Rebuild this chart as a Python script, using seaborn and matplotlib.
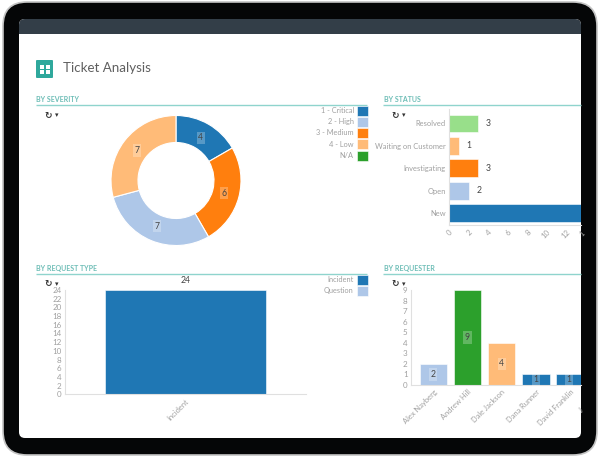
import matplotlib
matplotlib.use("Agg")
import matplotlib.pyplot as plt
from matplotlib.patches import FancyBboxPatch, Rectangle, Patch
import seaborn as sns

severity_labels = ["1 - Critical", "2 - High", "3 - Medium", "4 - Low", "N/A"]
pie_labels = ["1 - Critical", "3 - Medium", "2 - High", "4 - Low"]
pie_values = [4, 6, 7, 7]

status_labels = ["Resolved", "Waiting on Customer", "Investigating", "Open", "New"]
status_values = [3, 1, 3, 2, 15]
status_ticks = [0, 2, 4, 6, 8, 10, 12]

type_labels = ["Incident"]
type_values = [24]
type_legend = ["Incident", "Question"]
type_ticks = list(range(0, 25, 2))

requesters = ["Alex Nayberg", "Andrew Hill", "Dale Jackson", "Dana Runner", "David Franklin"]
requester_values = [2, 9, 4, 1, 1]

W, H = 600, 458
TEAL = "#6dbdb6"
LINE = "#8fd4cd"
GREY = "#a0a0a0"
DARK = "#444444"

sns.set_theme(style="white")
plt.rcParams["font.family"] = ["Lato", "DejaVu Sans"]
tab = sns.color_palette("tab20")
blue, lblue, orange, lorange, green, lgreen = tab[0], tab[1], tab[2], tab[3], tab[4], tab[5]
sev_colors = dict(zip(severity_labels, [blue, lblue, orange, lorange, green]))

fig = plt.figure(figsize=(W / 100, H / 100), dpi=100)


def px_axes(x0, y0, x1, y1):
    return fig.add_axes([x0 / W, 1 - y1 / H, (x1 - x0) / W, (y1 - y0) / H], facecolor="none")


def style_axis(ax, xsize=5.4, ysize=5.4):
    sns.despine(ax=ax)
    for s in ["left", "bottom"]:
        ax.spines[s].set_color("#e0e0e0")
        ax.spines[s].set_linewidth(0.8)
    ax.tick_params(colors=GREY, length=1.5, width=0.5, pad=1, color="#e0e0e0")
    ax.tick_params(axis="x", labelsize=xsize)
    ax.tick_params(axis="y", labelsize=ysize)
    ax.set_xlabel("")
    ax.set_ylabel("")


def rotate_x(ax):
    for t in ax.get_xticklabels():
        t.set_rotation(45)
        t.set_ha("right")
        t.set_rotation_mode("anchor")


def add_legend(labels, colors, top):
    handles = [Patch(facecolor=c, edgecolor="white", linewidth=0.4, label=l) for l, c in zip(labels, colors)]
    leg = fig.legend(handles=handles, loc="upper right", bbox_to_anchor=(367.5 / W, 1 - top / H),
                     markerfirst=False, frameon=False, fontsize=5.3, labelcolor=GREY,
                     handlelength=1.36, handleheight=1.72, handletextpad=0.5,
                     labelspacing=0.17, borderpad=0, borderaxespad=0)
    return leg


# device frame and page furniture, in pixel coordinates
bg = px_axes(0, 0, W, H)
bg.set_xlim(0, W)
bg.set_ylim(H, 0)
bg.axis("off")
bg.add_patch(FancyBboxPatch((3, 2), 594, 453, boxstyle="round,pad=0,rounding_size=24",
                            fc="#050607", ec="#c4c4c4", lw=1.2))
screen = FancyBboxPatch((19, 19), 562, 419, boxstyle="round,pad=0,rounding_size=6", fc="white", ec="none")
bg.add_patch(screen)
head = Rectangle((19, 19), 562, 15, fc="#333e48", ec="none")
bg.add_patch(head)
head.set_clip_path(screen)

bg.add_patch(FancyBboxPatch((36, 60), 17, 18, boxstyle="round,pad=0,rounding_size=1", fc="#2fa89c", ec="none"))
for ix in (40, 45.5):
    for iy in (64.5, 70):
        bg.add_patch(Rectangle((ix, iy), 4.3, 4.3, fc="white", ec="none"))
bg.text(63, 67.5, "Ticket Analysis", fontsize=9.6, color="#5f5f5f", va="center")

sections = [("BY SEVERITY", 36, 367, 99.5, 105), ("BY STATUS", 383, 581, 99.5, 105),
            ("BY REQUEST TYPE", 36, 367, 268, 273.5), ("BY REQUESTER", 383, 581, 268, 273.5)]
for name, x0, x1, ty, ly in sections:
    bg.text(x0 + 0.5, ty, name, fontsize=5.0, color=TEAL, fontweight="bold", va="center")
    bg.plot([x0, x1], [ly, ly], color=LINE, lw=1, solid_capstyle="butt")
for ix, iy in [(48, 115), (395, 115), (48, 284), (395, 284)]:
    bg.text(ix, iy, "\u21bb", fontsize=6.5, color="#333333", ha="center", va="center",
            family="DejaVu Sans", fontweight="bold")
    bg.text(ix + 9, iy, "\u25be", fontsize=5, color="#333333", ha="center", va="center", family="DejaVu Sans")

# tick labels that run into the edge of the screen
for txt, ix, iy in [("1", 578, 238), ("J", 577.5, 414)]:
    t = bg.text(ix, iy, txt, fontsize=5.4, color=GREY, rotation=45, ha="left", va="bottom", clip_on=True)
    t.set_clip_path(screen)

# by severity
ax = px_axes(111, 115.5, 241, 245.5)
wedges, texts = ax.pie(pie_values, labels=[str(v) for v in pie_values], labeldistance=0.76,
                       colors=[sev_colors[l] for l in pie_labels], startangle=90, counterclock=False,
                       radius=1, wedgeprops=dict(width=27 / 65, edgecolor="white", linewidth=0.8))
ax.set_xlim(-1, 1)
ax.set_ylim(-1, 1)
for t in texts:
    t.set_ha("center")
    t.set_va("center")
    t.set_fontsize(6.2)
    t.set_color(DARK)
    t.set_bbox(dict(facecolor="white", alpha=0.25, edgecolor="none", pad=1.2))
add_legend(severity_labels, [sev_colors[l] for l in severity_labels], 105.5)

# by status
ax = px_axes(449, 109, 581, 225)
sns.barplot(x=status_values, y=status_labels, hue=status_labels, ax=ax, orient="h", width=0.8,
            saturation=1, palette=[lgreen, lorange, orange, lblue, blue], legend=False,
            edgecolor="white", linewidth=0.4)
ax.set_xlim(0, 132 / 9.8)
ax.set_ylim(4.53, -0.647)
ax.set_xticks(status_ticks)
style_axis(ax, xsize=5.6, ysize=5.4)
rotate_x(ax)
for c, v in zip(ax.containers, status_values):
    if v < 13:
        ax.bar_label(c, padding=5.5, fontsize=6.2, color=DARK)

# by request type
ax = px_axes(65, 290, 306, 394.3)
sns.barplot(x=type_labels, y=type_values, ax=ax, width=0.668, saturation=1, color=blue,
            edgecolor="white", linewidth=0.4)
ax.set_ylim(0, 24)
ax.set_yticks(type_ticks)
style_axis(ax, xsize=5.4, ysize=5.8)
rotate_x(ax)
ax.bar_label(ax.containers[0], padding=3.5, fontsize=6.2, color=DARK)
add_legend(type_legend, [blue, lblue], 274.5)

# by requester
ax = px_axes(411, 290, 581, 385)
sns.barplot(x=requesters, y=requester_values, hue=requesters, ax=ax, width=0.8, saturation=1,
            palette=[lblue, green, lorange, blue, blue], legend=False, edgecolor="white", linewidth=0.4)
ax.set_xlim(-0.65, 4.32)
ax.set_ylim(0, 9)
ax.set_yticks(range(10))
style_axis(ax, xsize=5.4, ysize=5.8)
rotate_x(ax)
for c in ax.containers:
    ax.bar_label(c, label_type="center", fontsize=6.2, color=DARK,
                 bbox=dict(facecolor="white", alpha=0.25, edgecolor="none", pad=1.2))

fig.savefig("out.png", dpi=100)
